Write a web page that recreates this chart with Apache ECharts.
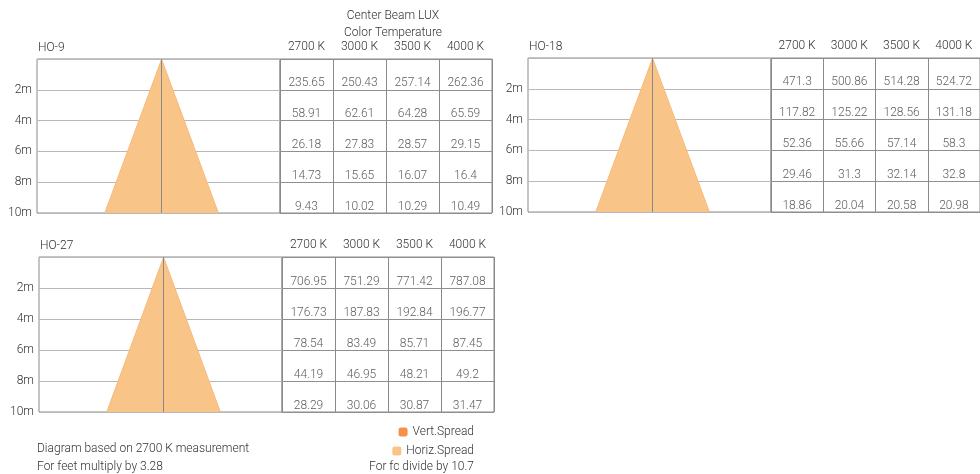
<!DOCTYPE html>
<html>
<head>
<meta charset="utf-8">
<script src="https://cdn.jsdelivr.net/npm/echarts@6/dist/echarts.min.js"></script>
<style>
  html, body { margin: 0; padding: 0; background: #fff; }
  #chart { width: 980px; height: 474px; }
</style>
</head>
<body>
<div id="chart"></div>
<script>
// data
const models = ['HO-9', 'HO-18', 'HO-27'];
const tempLabels = ['2700 K', '3000 K', '3500 K', '4000 K'];
const depths = [2, 4, 6, 8, 10];
const ho9Lux = [
  [235.65, 250.43, 257.14, 262.36],
  [58.91, 62.61, 64.28, 65.59],
  [26.18, 27.83, 28.57, 29.15],
  [14.73, 15.65, 16.07, 16.4],
  [9.43, 10.02, 10.29, 10.49]
];
const ho18Lux = [
  [471.3, 500.86, 514.28, 524.72],
  [117.82, 125.22, 128.56, 131.18],
  [52.36, 55.66, 57.14, 58.3],
  [29.46, 31.3, 32.14, 32.8],
  [18.86, 20.04, 20.58, 20.98]
];
const ho27Lux = [
  [706.95, 751.29, 771.42, 787.08],
  [176.73, 187.83, 192.84, 196.77],
  [78.54, 83.49, 85.71, 87.45],
  [44.19, 46.95, 48.21, 49.2],
  [28.29, 30.06, 30.87, 31.47]
];
// beam width (m) at 10 m
const vertSpread = [7.4, 7.4, 7.4];
const horizSpread = [7.4, 7.4, 7.4];

const luxTables = [ho9Lux, ho18Lux, ho27Lux];

// layout of each panel: diagram box + table box
const panels = [
  { left: 37, top: 59, dw: 243, tw: 212, h: 154 },
  { left: 528, top: 58, dw: 243, tw: 212, h: 154 },
  { left: 39, top: 257, dw: 243, tw: 212, h: 155 }
];

const font = 'Roboto, "Liberation Sans", sans-serif';
const fw = 300;
const fs = 12;
const textColor = '#333333';
const vertColor = '#f4914b';
const horizColor = '#f9c487';

const grid = [], xAxis = [], yAxis = [], series = [], graphic = [];

panels.forEach(function (p, i) {
  const g = i * 2;
  // diagram grid
  grid.push({ left: p.left, top: p.top, width: p.dw, height: p.h, show: true, borderColor: '#8a8a8a', borderWidth: 1 });
  // table grid
  grid.push({ left: p.left + p.dw, top: p.top, width: p.tw, height: p.h, show: true, borderColor: '#8a8a8a', borderWidth: 1 });

  xAxis.push({ gridIndex: g, type: 'value', min: -8.1, max: 7.7, show: false });
  xAxis.push({
    gridIndex: g + 1, type: 'category', data: tempLabels, position: 'top',
    axisLine: { show: false }, axisTick: { show: false },
    axisLabel: { margin: 6, fontSize: fs, fontFamily: font, fontWeight: fw, color: textColor },
    splitLine: { show: true, interval: 0, lineStyle: { color: '#8a8a8a' } }
  });

  yAxis.push({
    gridIndex: g, type: 'value', min: 0, max: 10, interval: 2, inverse: true,
    axisLine: { show: false }, axisTick: { show: false },
    axisLabel: { showMinLabel: false, margin: 5, fontSize: fs, fontFamily: font, fontWeight: fw, color: textColor, formatter: '{value}m' },
    splitLine: { lineStyle: { color: '#b8b8b8' } }
  });
  yAxis.push({
    gridIndex: g + 1, type: 'value', min: 0, max: 10, interval: 2, inverse: true,
    axisLine: { show: false }, axisTick: { show: false }, axisLabel: { show: false },
    splitLine: { lineStyle: { color: '#8f8f8f' } }
  });

  const vHalf = vertSpread[i] / 2, hHalf = horizSpread[i] / 2;
  series.push({
    name: 'Vert.Spread', type: 'line', xAxisIndex: g, yAxisIndex: g,
    data: [[-vHalf, 10], [0, 0], [vHalf, 10]],
    symbol: 'none', color: vertColor, z: 1,
    lineStyle: { width: 0 },
    areaStyle: { color: vertColor, opacity: 1, origin: 'end' }
  });
  series.push({
    name: 'Horiz.Spread', type: 'line', xAxisIndex: g, yAxisIndex: g,
    data: [[-hHalf, 10], [0, 0], [hHalf, 10]],
    symbol: 'none', color: horizColor, z: 2,
    lineStyle: { width: 0.6, color: '#f8bb7a' },
    areaStyle: { color: horizColor, opacity: 1, origin: 'end' },
    markLine: {
      silent: true, symbol: 'none', label: { show: false },
      lineStyle: { color: '#8a8a8a', type: 'solid', width: 1 },
      data: [{ xAxis: 0 }]
    }
  });

  const cells = [];
  luxTables[i].forEach(function (row, r) {
    row.forEach(function (v, c) { cells.push([c, depths[r], v]); });
  });
  series.push({
    type: 'scatter', xAxisIndex: g + 1, yAxisIndex: g + 1,
    data: cells, symbolSize: 1, itemStyle: { color: 'rgba(0,0,0,0)' },
    label: {
      show: true, position: 'top', distance: 0,
      fontSize: fs, fontFamily: font, fontWeight: fw, color: textColor,
      formatter: function (q) { return q.value[2]; }
    }
  });

  graphic.push({
    type: 'text', x: p.left + 1, y: p.top - 11,
    style: { text: models[i], font: fw + ' ' + fs + 'px ' + font, fill: textColor, verticalAlign: 'middle' }
  });
});

function note(text, x, y, align) {
  graphic.push({
    type: 'text', x: x, y: y,
    style: { text: text, font: fw + ' ' + fs + 'px ' + font, fill: textColor, align: align || 'left', verticalAlign: 'middle' }
  });
}
note('Center Beam LUX', 393, 16, 'center');
note('Color Temperature', 393, 33, 'center');
note('Diagram based on 2700 K measurement', 37, 449);
note('For feet multiply by 3.28', 37, 467);
note('For fc divide by 10.7', 474, 467, 'right');

const chart = echarts.init(document.getElementById('chart'));
chart.setOption({
  animation: false,
  grid: grid,
  xAxis: xAxis,
  yAxis: yAxis,
  legend: [
    {
      data: ['Vert.Spread'], right: 506, top: 426, padding: 0,
      icon: 'roundRect', itemWidth: 9, itemHeight: 9, itemGap: 6,
      textStyle: { fontSize: fs, fontFamily: font, fontWeight: fw, color: textColor }, selectedMode: false
    },
    {
      data: ['Horiz.Spread'], right: 506, top: 445, padding: 0,
      icon: 'roundRect', itemWidth: 9, itemHeight: 9, itemGap: 6,
      textStyle: { fontSize: fs, fontFamily: font, fontWeight: fw, color: textColor }, selectedMode: false
    }
  ],
  series: series,
  graphic: graphic
});
</script>
</body>
</html>
